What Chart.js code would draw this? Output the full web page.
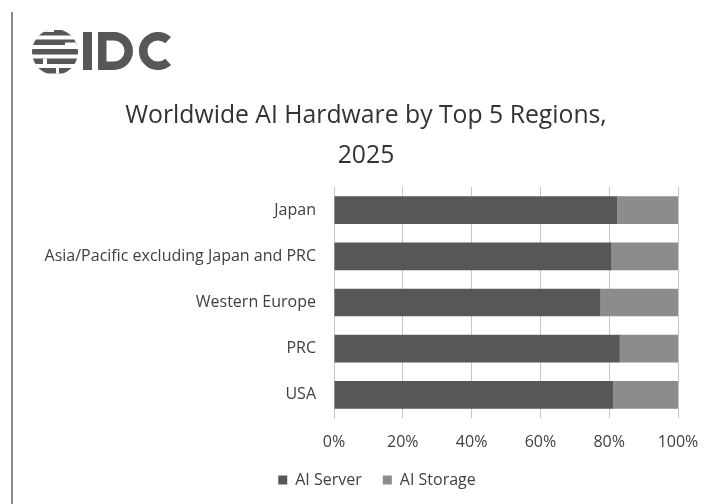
<!DOCTYPE html>
<html>
<head>
<meta charset="utf-8">
<script src="https://cdn.jsdelivr.net/npm/chart.js@4/dist/chart.umd.min.js"></script>
<style>
  html, body { margin: 0; padding: 0; background: #ffffff; }
  #wrap { width: 726px; height: 504px; position: relative; }
</style>
</head>
<body>
<div id="wrap"><canvas id="c" width="726" height="504"></canvas></div>
<script>
// Regions, top to bottom
const regions = ['Japan', 'Asia/Pacific excluding Japan and PRC', 'Western Europe', 'PRC', 'USA'];
// Share of 2025 AI hardware spending (%)
const aiServer = [82.4, 80.7, 77.5, 83.1, 81.1];
const aiStorage = [17.6, 19.3, 22.5, 16.9, 18.9];
const xTicks = [0, 20, 40, 60, 80, 100];
const titleLines = ['Worldwide AI Hardware by Top 5 Regions,', '2025'];

const FONT = "'Open Sans', 'DejaVu Sans', sans-serif";

// Brand mark, frame line and the two-line heading
const headerPlugin = {
  id: 'header',
  afterLayout(chart) {
    // keep the legend centred under the whole page rather than the plot block
    if (chart.legend) {
      chart.legend.left += 38;
      chart.legend.right += 38;
    }
  },
  beforeDraw(chart) {
    const ctx = chart.ctx;
    ctx.save();
    ctx.fillStyle = '#ffffff';
    ctx.fillRect(0, 0, chart.width, chart.height);
    // frame line on the left
    ctx.fillStyle = '#8a8a8a';
    ctx.fillRect(11, 12, 2, chart.height - 12);

    // striped globe with its broken bands
    ctx.save();
    const gx = 55, gy = 52, gr = 23;
    ctx.beginPath();
    ctx.arc(gx, gy, gr, 0, Math.PI * 2);
    ctx.clip();
    ctx.fillStyle = '#575757';
    [30, 39.5, 49, 58.5, 68].forEach(y => ctx.fillRect(gx - gr, y, 2 * gr, 5.5));
    ctx.fillStyle = '#ffffff';
    ctx.fillRect(gx - gr, 30, 22, 2);      // step in the top band
    ctx.fillRect(gx + 10, 42.5, 14, 2.5);  // notch in the second band
    ctx.fillRect(gx - 12, 58.5, 4, 5.5);   // gap in the fourth band
    ctx.fillRect(gx + 1, 68, 3, 5.5);      // gap in the bottom band
    ctx.restore();

    // letters I, D, C
    ctx.fillStyle = '#575757';
    ctx.fillRect(83, 32, 9, 38);
    ctx.beginPath();
    ctx.moveTo(98, 32);
    ctx.lineTo(114, 32);
    ctx.ellipse(114, 51, 19, 19, 0, -Math.PI / 2, Math.PI / 2, false);
    ctx.lineTo(98, 70);
    ctx.closePath();
    ctx.moveTo(106.5, 40.5);
    ctx.lineTo(114, 40.5);
    ctx.ellipse(114, 51, 10.5, 10.5, 0, -Math.PI / 2, Math.PI / 2, false);
    ctx.lineTo(106.5, 61.5);
    ctx.closePath();
    ctx.fill('evenodd');
    ctx.strokeStyle = '#575757';
    ctx.lineWidth = 8.5;
    ctx.lineCap = 'butt';
    ctx.beginPath();
    ctx.arc(158, 51, 14.8, 0.26 * Math.PI, 1.74 * Math.PI, false);
    ctx.stroke();

    // heading
    ctx.fillStyle = '#333333';
    ctx.font = '400 24.75px ' + FONT;
    ctx.textAlign = 'center';
    ctx.textBaseline = 'alphabetic';
    ctx.fillText(titleLines[0], 366, 123);
    ctx.fillText(titleLines[1], 366, 163);
    ctx.restore();
  }
};

new Chart(document.getElementById('c'), {
  type: 'bar',
  data: {
    labels: regions,
    datasets: [
      { label: 'AI Server', data: aiServer, backgroundColor: '#575757', barPercentage: 0.6, categoryPercentage: 1.0 },
      { label: 'AI Storage', data: aiStorage, backgroundColor: '#8c8c8c', barPercentage: 0.6, categoryPercentage: 1.0 }
    ]
  },
  options: {
    indexAxis: 'y',
    responsive: false,
    animation: false,
    layout: { padding: { top: 187, right: 48, left: 0, bottom: 6 } },
    scales: {
      x: {
        stacked: true,
        min: 0, max: 100,
        afterBuildTicks(scale) { scale.ticks = xTicks.map(v => ({ value: v })); },
        afterFit(scale) { scale.height = 33; },
        ticks: {
          callback: v => v + '%',
          color: '#404040',
          font: { family: FONT, size: 16 },
          padding: 15
        },
        grid: { color: '#c6c6c6', lineWidth: 1, drawTicks: false },
        border: { display: false }
      },
      y: {
        stacked: true,
        afterFit(scale) { scale.width = 334; },
        ticks: {
          color: '#404040',
          font: { family: FONT, size: 16 },
          padding: 18
        },
        grid: { display: false, drawTicks: false },
        border: { display: true, color: '#c6c6c6', width: 1 }
      }
    },
    plugins: {
      title: { display: false },
      legend: {
        position: 'bottom',
        labels: {
          color: '#404040',
          font: { family: FONT, size: 16 },
          boxWidth: 9, boxHeight: 9,
          padding: 21
        }
      },
      tooltip: { enabled: false }
    }
  },
  plugins: [headerPlugin]
});
</script>
</body>
</html>
